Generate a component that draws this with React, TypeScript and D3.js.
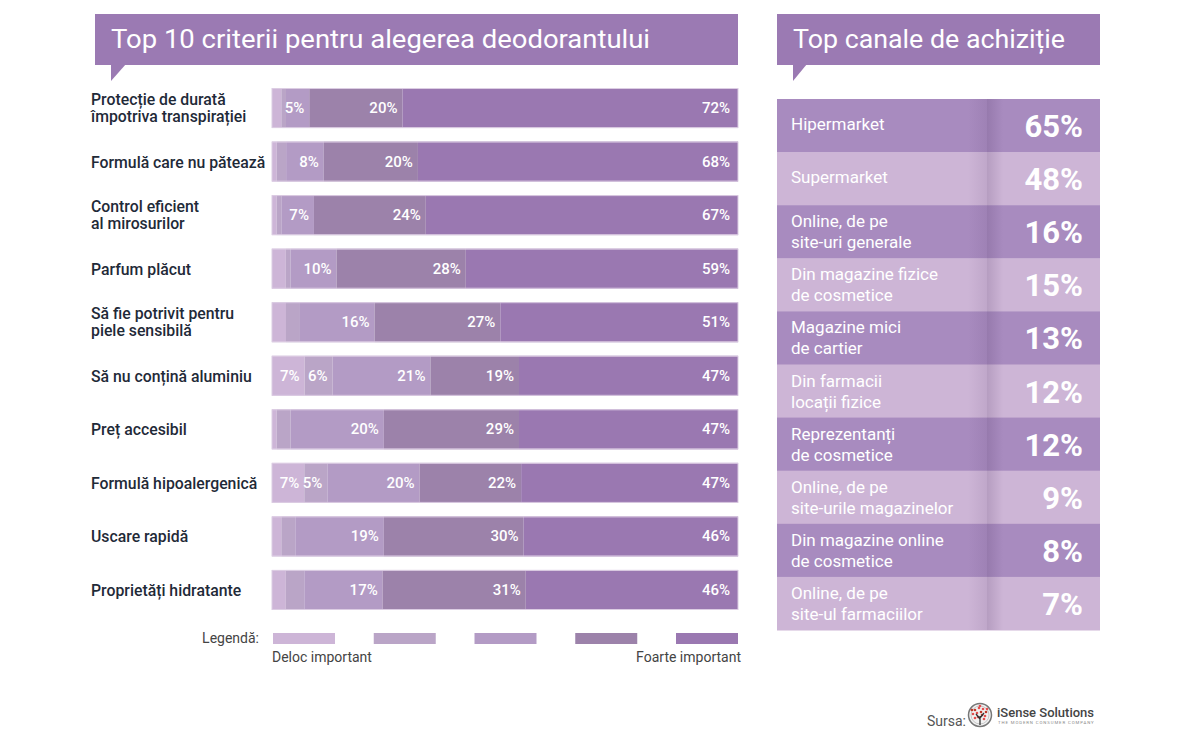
import React, { useEffect } from "react";
import * as d3 from "d3";

const criteria: string[][] = [
  ["Protecție de durată", "împotriva transpirației"],
  ["Formulă care nu pătează"],
  ["Control eficient", "al mirosurilor"],
  ["Parfum plăcut"],
  ["Să fie potrivit pentru", "piele sensibilă"],
  ["Să nu conțină aluminiu"],
  ["Preț accesibil"],
  ["Formulă hipoalergenică"],
  ["Uscare rapidă"],
  ["Proprietăți hidratante"],
];
const levelKeys = ["l1", "l2", "l3", "l4", "l5"];
const level1 = [2, 1, 1, 3, 3, 7, 1, 7, 2, 3];
const level2 = [1, 2, 1, 1, 3, 6, 3, 5, 3, 4];
const level3 = [5, 8, 7, 10, 16, 21, 20, 20, 19, 17];
const level4 = [20, 20, 24, 28, 27, 19, 29, 22, 30, 31];
const level5 = [72, 68, 67, 59, 51, 47, 47, 47, 46, 46];
const levelColors = ["#cdb5d7", "#baa5c7", "#b39bc5", "#9c82aa", "#9a78b1"];
const legendLow = "Deloc important";
const legendHigh = "Foarte important";

const channels: string[][] = [
  ["Hipermarket"],
  ["Supermarket"],
  ["Online, de pe", "site-uri generale"],
  ["Din magazine fizice", "de cosmetice"],
  ["Magazine mici", "de cartier"],
  ["Din farmacii", "locații fizice"],
  ["Reprezentanți", "de cosmetice"],
  ["Online, de pe", "site-urile magazinelor"],
  ["Din magazine online", "de cosmetice"],
  ["Online, de pe", "site-ul farmaciilor"],
];
const shares = [65, 48, 16, 15, 13, 12, 12, 9, 8, 7];

const leftTitle = "Top 10 criterii pentru alegerea deodorantului";
const rightTitle = "Top canale de achiziție";

const FONT = "Roboto, 'Open Sans', sans-serif";
const BANNER = "#9b7ab3";

export default function App() {
  useEffect(() => {
    document.body.style.margin = "0";
  }, []);

  const levels = [level1, level2, level3, level4, level5];
  const rows = criteria.map((c, i) => {
    const o: any = { idx: i };
    levelKeys.forEach((k, j) => (o[k] = levels[j][i]));
    return o;
  });
  const stacked = d3.stack<any>().keys(levelKeys).offset(d3.stackOffsetExpand)(rows);

  const x = d3.scaleLinear().domain([0, 1]).range([272, 738]);
  const y = d3
    .scaleBand<number>()
    .domain(d3.range(criteria.length))
    .range([88, 610])
    .paddingInner(0.252)
    .paddingOuter(0);
  const bw = y.bandwidth();

  const ty = d3
    .scaleBand<number>()
    .domain(d3.range(channels.length))
    .range([99, 630]);
  const rh = ty.bandwidth();

  const legendX = d3
    .scalePoint<number>()
    .domain(d3.range(5))
    .range([273, 738 - 62]);

  const logoDots = [
    [-5, -5], [-1, -7], [3, -6], [6, -3], [-7, -1], [-3, -2], [1, -3], [5, 1],
    [-5, 3], [2, 0], [-2, 2], [7, -6], [-8, -5], [4, 4], [0, -9],
  ];

  return (
    <div style={{ position: "absolute", left: 0, top: 0 }}>
      <svg width={1200} height={750} style={{ display: "block", background: "#fff" }} fontFamily={FONT}>
        <defs>
          <linearGradient id="shL" x1="0" x2="1" y1="0" y2="0">
            <stop offset="0" stopColor="#4a2c5e" stopOpacity="0" />
            <stop offset="1" stopColor="#4a2c5e" stopOpacity="0.10" />
          </linearGradient>
          <linearGradient id="shR" x1="0" x2="1" y1="0" y2="0">
            <stop offset="0" stopColor="#3a1f4e" stopOpacity="0.16" />
            <stop offset="1" stopColor="#3a1f4e" stopOpacity="0" />
          </linearGradient>
        </defs>

        {/* Left banner */}
        <rect x={95} y={14} width={643} height={51} fill={BANNER} />
        <path d="M111,64 L126,64 L111,81 Z" fill={BANNER} />
        <text x={111} y={48} fill="#fff" fontSize={26} textLength={539} lengthAdjust="spacingAndGlyphs">
          {leftTitle}
        </text>

        {/* Right banner */}
        <rect x={777} y={14} width={323} height={51} fill={BANNER} />
        <path d="M793,64 L807,64 L793,81 Z" fill={BANNER} />
        <text x={793} y={48} fill="#fff" fontSize={26} textLength={272} lengthAdjust="spacingAndGlyphs">
          {rightTitle}
        </text>

        {/* Criteria labels */}
        {criteria.map((lines, i) => {
          const cy = (y(i) as number) + bw / 2;
          return (
            <text key={"cl" + i} fill="#1f2a38" fontSize={15.8} fontWeight={500}>
              {lines.length === 1 ? (
                <tspan x={91} y={cy + 6}>{lines[0]}</tspan>
              ) : (
                <>
                  <tspan x={91} y={cy - 3}>{lines[0]}</tspan>
                  <tspan x={91} y={cy + 14}>{lines[1]}</tspan>
                </>
              )}
            </text>
          );
        })}

        {/* Stacked bars */}
        {stacked.map((series, j) => (
          <g key={"s" + j} fill={levelColors[j]}>
            {series.map((d, i) => (
              <rect
                key={i}
                x={x(d[0])}
                y={y(i) as number}
                width={Math.max(0, x(d[1]) - x(d[0]))}
                height={bw}
              />
            ))}
          </g>
        ))}
        {criteria.map((_, i) => (
          <rect
            key={"ol" + i}
            x={x(0)}
            y={(y(i) as number) + 0.5}
            width={x(1) - x(0)}
            height={bw - 1}
            fill="none"
            stroke="#dccde3"
            strokeWidth={1}
          />
        ))}
        {stacked.map((series, j) =>
          series.map((d, i) => {
            const v = levels[j][i];
            if (v < 5) return null;
            const pad = j === 4 ? 8 : 5;
            return (
              <text
                key={"lb" + j + "-" + i}
                x={x(d[1]) - pad}
                y={(y(i) as number) + bw / 2 + 5}
                textAnchor="end"
                fill="#fff"
                fontSize={15}
                fontWeight={500}
              >
                {v}%
              </text>
            );
          })
        )}

        {/* Legend */}
        <text x={259} y={643} textAnchor="end" fill="#444" fontSize={14}>
          Legendă:
        </text>
        {levelColors.map((c, j) => (
          <rect key={"lg" + j} x={legendX(j)} y={633} width={62} height={11} fill={c} />
        ))}
        <text x={272} y={662} fill="#444" fontSize={14}>
          {legendLow}
        </text>
        <text x={741} y={662} textAnchor="end" fill="#444" fontSize={14}>
          {legendHigh}
        </text>

        {/* Right table */}
        {channels.map((lines, i) => {
          const top = ty(i) as number;
          const fill = i % 2 === 0 ? "#a88bbf" : "#cdb5d6";
          return (
            <g key={"tr" + i}>
              <rect x={777} y={top} width={323} height={rh + 0.5} fill={fill} />
            </g>
          );
        })}
        <rect x={968} y={99} width={19} height={531} fill="url(#shL)" />
        <rect x={987} y={99} width={16} height={531} fill="url(#shR)" />
        {channels.map((lines, i) => {
          const top = ty(i) as number;
          return (
            <g key={"tt" + i}>
              <text fill="#fff" fontSize={17}>
                {lines.length === 1 ? (
                  <tspan x={791} y={top + 31}>{lines[0]}</tspan>
                ) : (
                  <>
                    <tspan x={791} y={top + 22}>{lines[0]}</tspan>
                    <tspan x={791} y={top + 43}>{lines[1]}</tspan>
                  </>
                )}
              </text>
              <text
                x={1083}
                y={top + 38}
                textAnchor="end"
                fill="#fff"
                fontSize={31}
                fontWeight={700}
              >
                {shares[i]}%
              </text>
            </g>
          );
        })}

        {/* Source */}
        <text x={927} y={726} fill="#555" fontSize={14}>
          Sursa:
        </text>
        <g transform="translate(980,715)">
          <circle r={11.5} fill="#f2f2f2" stroke="#777" strokeWidth={1.5} />
          <circle r={9} fill="none" stroke="#aaa" strokeWidth={0.6} />
          {logoDots.map((p, k) => (
            <circle key={k} cx={p[0]} cy={p[1]} r={1.3} fill={k % 3 === 0 ? "#c0392b" : "#e35050"} />
          ))}
          <path d="M0,10 L0,1 M0,4 L-4,-1 M0,3 L4,-2" stroke="#333" strokeWidth={1.3} fill="none" />
        </g>
        <text x={997} y={717} fill="#444" fontSize={13} fontWeight={500}>
          iSense Solutions
        </text>
        <text x={998} y={723.5} fill="#888" fontSize={4.3} letterSpacing={0.9}>
          THE MODERN CONSUMER COMPANY
        </text>
      </svg>
    </div>
  );
}
